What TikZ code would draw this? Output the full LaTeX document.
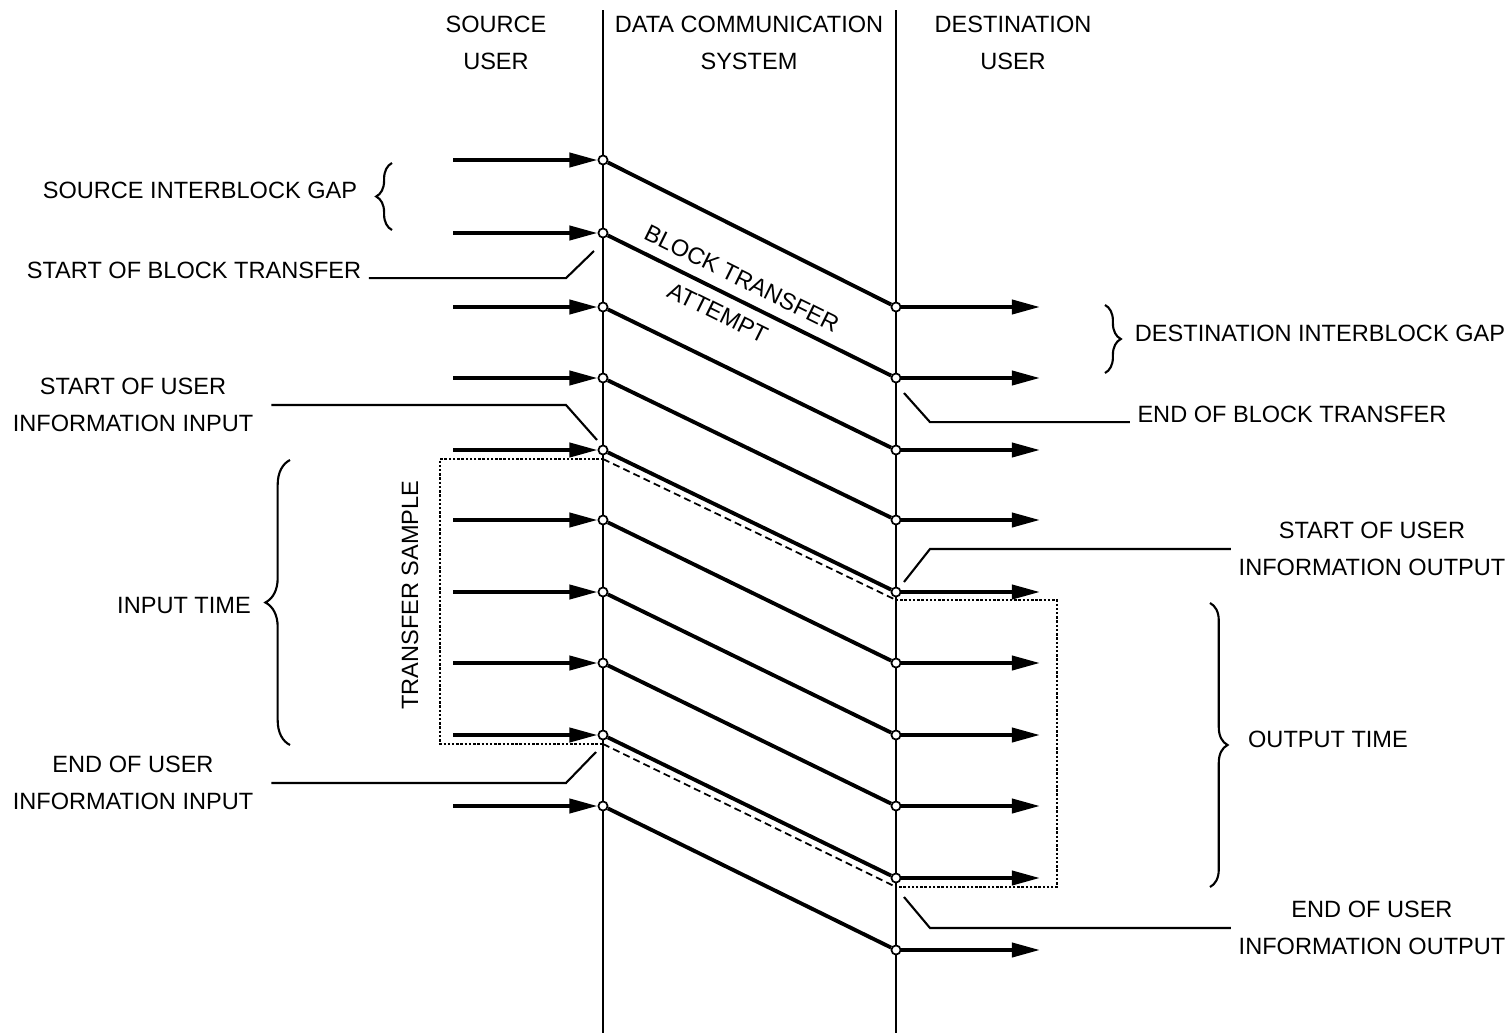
\documentclass[tikz,border=0pt]{standalone}
\usepackage{fontspec}
\setmainfont{Liberation Sans}
\usetikzlibrary{arrows.meta,decorations.pathreplacing}
\begin{document}
\begin{tikzpicture}[x=0.01cm, y=-0.01cm,
		lbl/.style={font=\fontsize{6.7}{10.6}\selectfont, align=center, inner sep=2pt},
		junct/.style={circle, draw, fill=white, line width=0.5pt, inner sep=0pt, minimum size=2.6pt},
		flow/.style={line width=1.1pt, -{Triangle[length=8pt, width=4pt]}},
		trace/.style={line width=1.1pt},
		leader/.style={line width=0.6pt},
		sample/.style={line width=0.5pt, dash pattern=on 0.7pt off 0.5pt},
		slant/.style={line width=0.5pt, dash pattern=on 2pt off 1.2pt},
		gap/.style={line width=0.6pt, decorate, decoration={brace, amplitude=#1}}]
	\useasboundingbox (0,0) rectangle (1511,1033);
	% the two interfaces of the data communication system
	\def\xin{603}
	\def\xout{896}
	\draw[line width=0.6pt] (\xin,10) -- (\xin,1033);
	\draw[line width=0.6pt] (\xout,10) -- (\xout,1033);
	\node[lbl] (srcuser) at (496,43) {SOURCE\\USER};
	\node[lbl] (dcs) at (749,43) {DATA COMMUNICATION\\SYSTEM};
	\node[lbl] (dstuser) at (1013,43) {DESTINATION\\USER};
	% the transfer sample: dotted boxes at both interfaces, dashed between them
	\draw[sample] (\xin,459) -- (440,459) -- (440,744) -- (\xin,744);
	\draw[sample] (\xout,600) -- (1057,600) -- (1057,887) -- (\xout,887);
	\draw[slant] (\xin,459) -- (\xout,600);
	\draw[slant] (\xin,744) -- (\xout,887);
	\node[lbl, rotate=90] (tsample) at (410,595) {TRANSFER SAMPLE};
	% blocks entering at the source side and leaving at the destination side
	\foreach \y [count=\i] in {160,233,307,378,450,520,592,663,735,806} {
		\node[junct] (src\i) at (\xin,\y) {};
		\coordinate (in\i) at (453,\y);
		\draw[flow] (in\i) -- (src\i);
	}
	\foreach \y [count=\i from 3] in {307,378,450,520,592,663,735,806,878,950} {
		\node[junct] (dst\i) at (\xout,\y) {};
		\coordinate (out\i) at (1040,\y);
		\draw[flow] (dst\i) -- (out\i);
	}
	% each block reaches the far side two rows later
	\foreach \i [evaluate=\i as \j using int(\i+2)] in {1,3,4,5,6,7,8,9,10}
		\draw[trace] (src\i) -- (dst\j);
	\draw[trace] (src2) -- node[lbl, sloped, above=1pt, pos=0.44] {BLOCK TRANSFER}
		node[lbl, sloped, below=1pt, pos=0.42] {ATTEMPT} (dst4);
	% gaps and times
	\node[lbl] (sgap) at (200,190) {SOURCE INTERBLOCK GAP};
	\draw[gap=4.5pt] (392,230) -- (392,163);
	\node[lbl] (dgap) at (1320,333) {DESTINATION INTERBLOCK GAP};
	\draw[gap=4.5pt] (1105,305) -- (1105,373);
	\node[lbl] (intime) at (184,606) {INPUT TIME};
	\draw[gap=7pt] (290,745) -- (290,460);
	\node[lbl] (outtime) at (1328,739) {OUTPUT TIME};
	\draw[gap=5pt] (1210,603) -- (1210,887);
	% reference events, with their leaders
	\node[lbl] (sbt) at (194,270) {START OF BLOCK TRANSFER};
	\coordinate (sbtk) at (566,282);
	\coordinate (sbtp) at (594,251);
	\draw[leader] (sbt.base east) -- (sbt.base east -| sbtk) -- (sbtp);
	\node[lbl] (suin) at (133,405) {START OF USER\\INFORMATION INPUT};
	\coordinate (suink) at (566,408);
	\coordinate (suinp) at (597,440);
	\draw[leader] ([xshift=3pt]suin.east) -- (suin.east -| suink) -- (suinp);
	\node[lbl] (euin) at (133,783) {END OF USER\\INFORMATION INPUT};
	\coordinate (euink) at (566,782);
	\coordinate (euinp) at (596,752);
	\draw[leader] ([xshift=3pt]euin.east) -- (euin.east -| euink) -- (euinp);
	\node[lbl] (ebt) at (1292,414) {END OF BLOCK TRANSFER};
	\coordinate (ebtk) at (930,422);
	\coordinate (ebtp) at (904,393);
	\draw[leader] (ebt.base west) -- (ebt.base west -| ebtk) -- (ebtp);
	\node[lbl] (suout) at (1372,549) {START OF USER\\INFORMATION OUTPUT};
	\coordinate (suoutk) at (930,552);
	\coordinate (suoutp) at (904,582);
	\draw[leader] (suout.west) -- (suout.west -| suoutk) -- (suoutp);
	\node[lbl] (euout) at (1372,928) {END OF USER\\INFORMATION OUTPUT};
	\coordinate (euoutk) at (930,925);
	\coordinate (euoutp) at (904,897);
	\draw[leader] (euout.west) -- (euout.west -| euoutk) -- (euoutp);
\end{tikzpicture}
\end{document}
